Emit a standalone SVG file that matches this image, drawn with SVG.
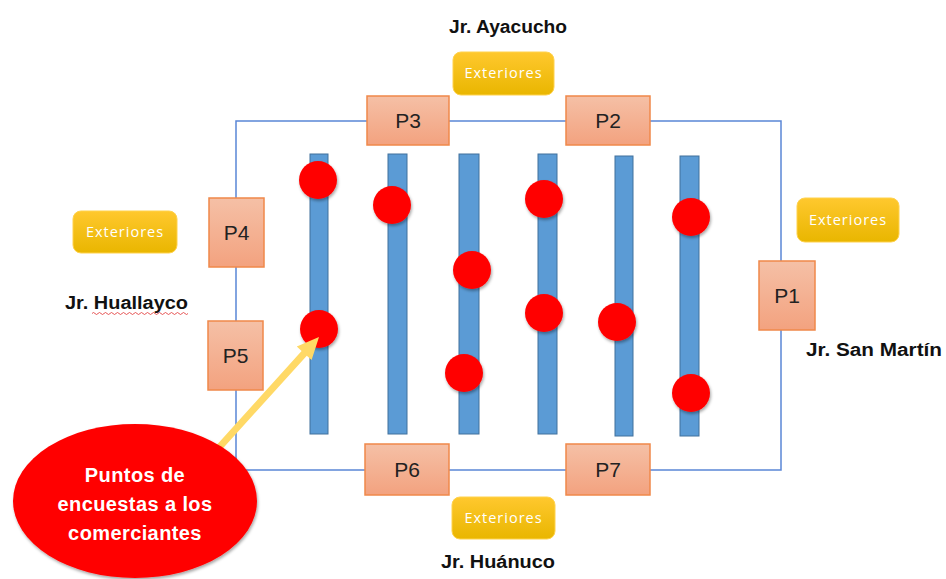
<svg xmlns="http://www.w3.org/2000/svg" width="946" height="579" viewBox="0 0 946 579">
<defs>
<linearGradient id="gP" x1="0" y1="0" x2="0" y2="1"><stop offset="0" stop-color="#F5C0A6"/><stop offset="1" stop-color="#F3A27F"/></linearGradient>
<linearGradient id="gE" x1="0" y1="0" x2="0" y2="1"><stop offset="0" stop-color="#FFC82E"/><stop offset="1" stop-color="#E9B600"/></linearGradient>
<filter id="sh" x="-30%" y="-30%" width="160%" height="160%"><feGaussianBlur in="SourceAlpha" stdDeviation="1.5"/><feOffset dx="1" dy="2" result="b"/><feFlood flood-color="#000" flood-opacity="0.35"/><feComposite in2="b" operator="in"/><feMerge><feMergeNode/><feMergeNode in="SourceGraphic"/></feMerge></filter>
</defs>
<style>
.p{fill:url(#gP);stroke:#F0884A;stroke-width:1.5}
.pt{font-family:"Liberation Sans",Arial,sans-serif;font-size:21px;fill:#222;text-anchor:middle}
.e{fill:url(#gE);stroke:#FFD24D;stroke-width:1}
.et{font-family:"Open Sans","Liberation Sans",sans-serif;font-size:14.5px;fill:#FFFFFF;text-anchor:middle;letter-spacing:1px}
.col{fill:#5B9BD5;stroke:#41719C;stroke-width:1}
.dot{fill:#FF0000}
.st{font-family:"Liberation Sans",Arial,sans-serif;font-size:18px;font-weight:bold;fill:#111}
.w{font-family:"Liberation Sans",Arial,sans-serif;font-size:20px;font-weight:bold;fill:#FFFFFF;text-anchor:middle;letter-spacing:0.4px}
</style>
<rect x="0" y="0" width="946" height="579" fill="#FFFFFF"/>
<g id="streets">
<rect x="236" y="121" width="545" height="349" fill="none" stroke="#5A86D6" stroke-width="1.5"/>
</g>
<g id="stalls">
<rect class="col" x="310" y="154" width="18" height="280"/>
<rect class="col" x="388" y="154" width="19" height="280"/>
<rect class="col" x="459" y="154" width="20" height="280"/>
<rect class="col" x="538" y="154" width="19" height="280"/>
<rect class="col" x="615" y="156" width="18" height="280"/>
<rect class="col" x="680" y="156" width="19" height="280"/>
</g>
<g id="points" filter="url(#sh)">
<circle class="dot" cx="318" cy="180" r="19"/>
<circle class="dot" cx="319" cy="329" r="19"/>
<circle class="dot" cx="392" cy="205" r="19"/>
<circle class="dot" cx="472" cy="270" r="19"/>
<circle class="dot" cx="464" cy="373" r="19"/>
<circle class="dot" cx="544" cy="199" r="19"/>
<circle class="dot" cx="544" cy="313" r="19"/>
<circle class="dot" cx="617" cy="322" r="19"/>
<circle class="dot" cx="691" cy="217" r="19"/>
<circle class="dot" cx="691" cy="393" r="19"/>
</g>
<g id="P3"><rect class="p" x="367" y="96" width="82" height="49"/><text class="pt" x="408" y="128">P3</text></g>
<g id="P2"><rect class="p" x="566" y="96" width="84" height="49"/><text class="pt" x="608" y="128">P2</text></g>
<g id="P4"><rect class="p" x="209" y="198" width="55" height="69"/><text class="pt" x="236.5" y="240">P4</text></g>
<g id="P5"><rect class="p" x="208" y="321" width="55" height="69"/><text class="pt" x="235.5" y="363">P5</text></g>
<g id="P1"><rect class="p" x="759" y="261" width="56" height="69"/><text class="pt" x="787" y="303">P1</text></g>
<g id="P6"><rect class="p" x="365" y="444" width="84" height="51"/><text class="pt" x="407" y="477">P6</text></g>
<g id="P7"><rect class="p" x="566" y="444" width="84" height="51"/><text class="pt" x="608" y="477">P7</text></g>
<g id="ext-top"><rect class="e" x="453" y="52" width="101" height="43" rx="8"/><text class="et" x="503.5" y="78">Exteriores</text></g>
<g id="ext-left"><rect class="e" x="73" y="211" width="104" height="42" rx="8"/><text class="et" x="125" y="237">Exteriores</text></g>
<g id="ext-right"><rect class="e" x="797" y="198" width="102" height="44" rx="8"/><text class="et" x="848" y="225">Exteriores</text></g>
<g id="ext-bottom"><rect class="e" x="452" y="497" width="103" height="42" rx="8"/><text class="et" x="503.5" y="523">Exteriores</text></g>
<g id="labels">
<text class="st" x="449" y="33" textLength="118" lengthAdjust="spacingAndGlyphs">Jr. Ayacucho</text>
<text class="st" x="65" y="309" textLength="123" lengthAdjust="spacingAndGlyphs">Jr. Huallayco</text>
<path d="M92 313.5 q1.5 -2 3 0 t3 0 t3 0 t3 0 t3 0 t3 0 t3 0 t3 0 t3 0 t3 0 t3 0 t3 0 t3 0 t3 0 t3 0 t3 0 t3 0 t3 0 t3 0 t3 0 t3 0 t3 0 t3 0 t3 0 t3 0 t3 0 t3 0 t3 0 t3 0 t3 0 t3 0 t3 0" fill="none" stroke="#E03030" stroke-width="0.8"/>
<text class="st" x="806" y="356" textLength="136" lengthAdjust="spacingAndGlyphs">Jr. San Martín</text>
<text class="st" x="441" y="568" textLength="114" lengthAdjust="spacingAndGlyphs">Jr. Huánuco</text>
</g>
<g id="connectors">
<polygon points="212.4,449.7 217.6,454.3 306.8,355.7 311.6,360.0 319,337 296.8,346.6 301.6,351.0" fill="#FFD966"/>
</g>
<g id="callout">
<ellipse cx="135" cy="501" rx="122" ry="77" fill="#FF0000" filter="url(#sh)"/>
<text class="w" x="135" y="482">Puntos de</text>
<text class="w" x="135" y="511">encuestas a los</text>
<text class="w" x="135" y="540">comerciantes</text>
</g>
</svg>
